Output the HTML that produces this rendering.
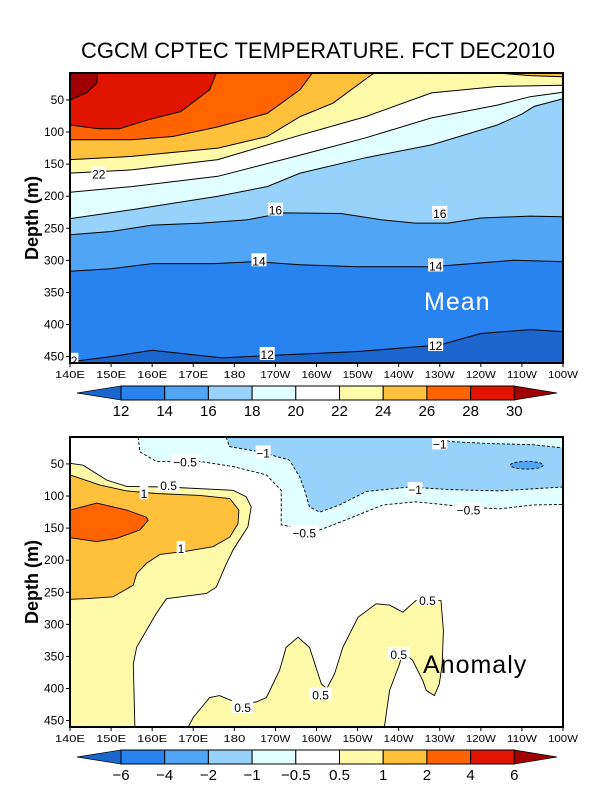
<!DOCTYPE html>
<html><head><meta charset="utf-8"><style>
html,body{margin:0;padding:0;background:#fff;}
svg{display:block;font-family:"Liberation Sans",sans-serif;}
</style></head><body>
<svg id="chart" width="600" height="800" viewBox="0 0 600 800" xmlns="http://www.w3.org/2000/svg">
<text x="318" y="58" text-anchor="middle" font-size="22" textLength="474" lengthAdjust="spacingAndGlyphs">CGCM CPTEC TEMPERATURE. FCT DEC2010</text>
<g id="top"></g>
<g id="bot"></g>
</svg>
<script>
// ---- data ----
const lonTicks = [140,150,160,170,180,190,200,210,220,230,240,250,260];
const lonTickLabels = ["140E","150E","160E","170E","180","170W","160W","150W","140W","130W","120W","110W","100W"];
const depthTicks = [50,100,150,200,250,300,350,400,450];
const meanLevels = [12,14,16,18,20,22,24,26,28,30];
const meanColors = ["#1a66cc","#2882f0","#50a5f5","#96d2fa","#e1ffff","#ffffff","#fffaaa","#ffc03c","#ff6400","#e11400","#a00000"];
const iso12 = [[140,458],[150,450],[160,440],[170,447],[177,452],[190,448],[210,442],[230,432],[240,414],[252,408],[260,411]];
const iso14 = [[140,317],[150,313],[160,305],[175,305],[185,302],[196,307],[210,310],[228,310],[240,304],[248,300],[260,302]];
const iso16 = [[140,260],[150,255],[160,245],[172,242],[183,237],[192,226],[206,227],[216,237],[224,242],[232,242],[240,234],[252,231],[260,232]];
const iso18 = [[140,235],[155,221],[176,200],[188,185],[196,164],[212,140],[228,120],[244,89],[250,72],[253,60],[260,48]];
const iso20 = [[140,194],[155,185],[176,169],[196,136],[212,109],[228,78],[236,68],[244,58],[252,45],[260,38]];
const iso22 = [[140,164],[155,159],[176,143],[196,105],[212,76],[228,39],[244,29],[260,27]];
const iso24 = [[140,143],[155,138],[176,125],[188,107],[196,76],[204,55],[214,8],[220,0],[240,0],[244,8],[252,12],[260,14]];
const iso26 = [[140,112],[155,112],[165,107],[176,92],[188,71],[196,34],[199,8],[202,0]];
const iso28 = [[140,89],[147,95],[152,95],[159,81],[167,68],[174,34],[175.6,8],[176,0]];
const iso30 = [[140,50],[144,39],[146.5,24],[146.7,8],[147,0]];
const meanLines = [iso12,iso14,iso16,iso18,iso20,iso22,iso24,iso26,iso28,iso30];
const meanLabels = [["22",147,165],["16",190,221],["16",230,226],["14",186,300],["14",229,308],["12",188,446],["12",229,432],["2",141,455]];

const anomLevels = ["-6","-4","-2","-1","-0.5","0.5","1","2","4","6"];
const anomColors = ["#1a66cc","#2882f0","#50a5f5","#96d2fa","#e1ffff","#ffffff","#fffaaa","#ffc03c","#ff6400","#e11400","#a00000"];
const posHalf = [[140,49],[143.2,52],[148.9,75],[153.8,85],[163.5,86],[179.7,91],[182.9,101],[184.1,117],[183.3,148],[179.7,184],[178.1,205],[175.6,242],[173.2,252],[163.5,260],[161,283],[156.2,336],[155.4,362],[155.8,461]];
const posOne = [[140,67],[147.3,83],[153.8,92],[161,96],[171.6,99],[178.9,104],[181.1,122],[180.9,143],[178.9,164],[174.8,179],[168.3,186],[161.9,191],[158.6,205],[156.2,221],[155.4,239],[150.5,257],[144,260],[140,261]];
const posTwo = [[140,122],[146.5,111],[153.8,122],[158.6,133],[159,138],[157,153],[151.3,166],[146.5,171],[140,165]];
const posHalfEast = [[168.7,461],[170,445],[174,414],[176.4,411],[181.3,424],[185.3,421],[187.8,414],[191,372],[192.6,336],[195.5,320],[198.3,336],[201.2,393],[202.5,400],[204.4,377],[206.4,336],[210.1,289],[214.5,268],[217.8,270],[221,281],[224.2,263],[226.7,260],[230.3,263],[230.9,310],[230.6,362],[229.9,393],[228.7,411],[226.7,403],[225.9,388],[223.4,356],[221,343],[220.2,362],[217.8,403],[216.5,461]];
const negHalf = [[156.6,8],[157,31],[161,46],[171.6,46],[179.7,54],[187.8,67],[191.4,91],[191.4,145],[195.9,150],[200.8,153],[208,135],[216.1,114],[224.2,109],[236.4,117],[244.5,120],[252.6,114],[260,113]];
const negOne = [[178,8],[178.8,23],[186.2,31],[193.4,44],[195.9,70],[197.1,91],[198.3,117],[200.8,125],[205.6,114],[212.1,93],[222.6,86],[232.3,90],[244.5,92],[260,86],[260,25],[252.6,20],[241.2,18],[232.3,15],[229.9,8]];
const negTwoCenter = [251.2,52];
const negTwoRadius = [4,6];
const anomLabels = [["-1",187,32],["-0.5",168,46],["-0.5",197,157],["0.5",164,83],["1",158,95],["1",167,181],["-1",230,18],["-1",224,89],["-0.5",237,121],["0.5",227,262],["0.5",220,346],["0.5",201,409],["0.5",182,429]];

// ---- helpers ----
const NS="http://www.w3.org/2000/svg";
const X0=70,X1=563;
function xs(lon){return X0+(lon-140)*(X1-X0)/120;}
function mk(tag,attrs,parent){const e=document.createElementNS(NS,tag);for(const k in attrs)e.setAttribute(k,attrs[k]);parent.appendChild(e);return e;}
function panel(g,top,id){
  const bottom=top+290;
  const ys=d=>top+(d-8)*290/452;
  const clip=mk("clipPath",{id:id},g);
  mk("rect",{x:X0,y:top,width:X1-X0,height:bottom-top},clip);
  const body=mk("g",{"clip-path":"url(#"+id+")"},g);
  return {ys,body,top,bottom};
}
function pts(arr,ys){return arr.map(p=>xs(p[0]).toFixed(1)+","+ys(p[1]).toFixed(1)).join(" ");}
function axes(g,P,panelName){
  const frame=mk("rect",{x:X0,y:P.top,width:X1-X0,height:P.bottom-P.top,fill:"none",stroke:"#000","stroke-width":2},g);
  
  
  lonTicks.forEach((l,i)=>{
    mk("line",{x1:xs(l),x2:xs(l),y1:P.bottom,y2:P.bottom+4,stroke:"#000"},g);
    const t=mk("text",{x:xs(l),y:P.bottom+15,"text-anchor":"middle","font-size":10.5,textLength:lonTickLabels[i].length>3?30:22,lengthAdjust:"spacingAndGlyphs"},g);
    t.textContent=lonTickLabels[i];
    
    
  });
  depthTicks.forEach(d=>{
    mk("line",{x1:X0-4,x2:X0,y1:P.ys(d),y2:P.ys(d),stroke:"#000"},g);
    const t=mk("text",{x:X0-6,y:P.ys(d)+4,"text-anchor":"end","font-size":12},g);
    t.textContent=d;
    
    
  });
  const yt=mk("text",{x:0,y:0,"text-anchor":"middle","font-size":18,"font-weight":"bold",transform:"translate(38,"+((P.top+P.bottom)/2)+") rotate(-90)"},g);
  yt.textContent="Depth (m)";
  
  
}
function label(g,P,txt,lon,d){
  const w=txt.length*6.5+2;
  const r=mk("rect",{x:xs(lon)-w/2,y:P.ys(d)-7,width:w,height:13,fill:"#fff"},g);
  const t=mk("text",{x:xs(lon),y:P.ys(d)+5,"text-anchor":"middle","font-size":12},g);
  t.textContent=txt.replace("-","\u2212");
  
  
}
function colorbar(g,y,labels,colors,name){
  const h=14,bx=121,bw=43.7,tl=77,tr=557;
  const lt=mk("polygon",{points:tl+","+(y+h/2)+" "+bx+","+y+" "+bx+","+(y+h),fill:colors[0],stroke:"#000","stroke-width":0.7},g);
  
  
  for(let i=1;i<colors.length-1;i++){
    const r=mk("rect",{x:bx+(i-1)*bw,y:y,width:bw,height:h,fill:colors[i],stroke:"#000","stroke-width":1},g);
    
    
  }
  const xe=bx+(colors.length-2)*bw;
  const rt=mk("polygon",{points:xe+","+y+" "+tr+","+(y+h/2)+" "+xe+","+(y+h),fill:colors[colors.length-1],stroke:"#000","stroke-width":0.7},g);
  
  
  labels.forEach((l,i)=>{
    const t=mk("text",{x:bx+i*bw,y:y+h+16,"text-anchor":"middle","font-size":15},g);
    t.textContent=String(l).replace("-","\u2212");
    
    
  });
}

// ---- top panel ----
const gt=document.getElementById("top");
const PT=panel(gt,73,"clipTop");
const base=mk("rect",{x:X0,y:PT.top,width:X1-X0,height:290,fill:meanColors[0]},PT.body);


meanLines.forEach((ln,i)=>{
  const closed=ln.concat([[260,-20],[140,-20]]);
  const p=mk("polygon",{points:pts(closed,PT.ys),fill:meanColors[i+1]},PT.body);
  
  
});
meanLines.forEach((ln,i)=>{
  const l=mk("polyline",{points:pts(ln,PT.ys),fill:"none",stroke:"#000","stroke-width":1},PT.body);
  
  
});
meanLabels.forEach(a=>label(PT.body,PT,a[0],a[1],a[2]));
const mt=mk("text",{x:424,y:310,"font-size":25,fill:"#fff","letter-spacing":"1"},gt);
mt.textContent="Mean";


axes(gt,PT,"mean");
colorbar(gt,386,meanLevels,meanColors,"mean-colorbar");

// ---- bottom panel ----
const gb=document.getElementById("bot");
const PB=panel(gb,437,"clipBot");
function region(arr,closeExtra,color,dashed,name){
  const p=mk("polygon",{points:pts(arr.concat(closeExtra),PB.ys),fill:color},PB.body);
  
  
  const l=mk("polyline",{points:pts(arr,PB.ys),fill:"none",stroke:"#000","stroke-width":0.9,"stroke-dasharray":dashed?"3,2":"none"},PB.body);
  
  
}
region(posHalf,[[140,470]],anomColors[6],false,"anomaly-plus-0.5-west");
region(posOne,[],anomColors[7],false,"anomaly-plus-1");
region(posTwo,[],anomColors[8],false,"anomaly-plus-2");
region(posHalfEast,[],anomColors[6],false,"anomaly-plus-0.5-east");
region(negHalf,[[265,113],[265,-10],[156.6,-10]],anomColors[4],true,"anomaly-minus-0.5");
region(negOne,[[229.9,-10],[178,-10]],anomColors[3],true,"anomaly-minus-1");
const el=mk("ellipse",{cx:xs(negTwoCenter[0]),cy:PB.ys(negTwoCenter[1]),rx:negTwoRadius[0]*(X1-X0)/120,ry:negTwoRadius[1]*290/452,fill:anomColors[2],stroke:"#000","stroke-width":0.9,"stroke-dasharray":"3,2"},PB.body);


anomLabels.forEach(a=>label(PB.body,PB,a[0],a[1],a[2]));
const at=mk("text",{x:423,y:673,"font-size":25,fill:"#000","letter-spacing":"1"},gb);
at.textContent="Anomaly";


axes(gb,PB,"anomaly");
colorbar(gb,750,anomLevels,anomColors,"anomaly-colorbar");
</script>
</body></html>
